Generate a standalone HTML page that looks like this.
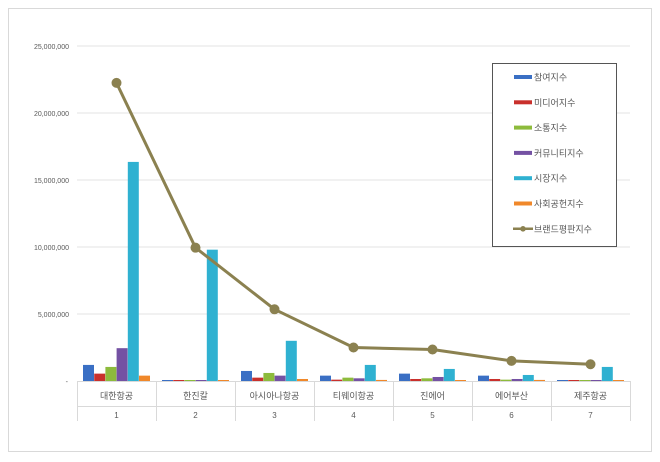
<!DOCTYPE html>
<html><head><meta charset="utf-8"><style>
html,body{margin:0;padding:0;background:#fff;width:660px;height:462px;overflow:hidden}
svg{display:block;font-family:"Liberation Sans","Noto Sans CJK KR",sans-serif}
</style></head><body>
<svg id="s" width="660" height="462" viewBox="0 0 660 462" xmlns="http://www.w3.org/2000/svg">
<rect x="8.5" y="8.5" width="643" height="443" fill="#fff" stroke="#d9d9d9"/>
</svg>
<script>
const s=document.getElementById('s');const NS='http://www.w3.org/2000/svg';
function el(t,a,txt){const e=document.createElementNS(NS,t);for(const k in a)e.setAttribute(k,a[k]);if(txt!==undefined)e.textContent=txt;s.appendChild(e);return e;}
const y0=381,pm=13.4,x0=77,cw=79;
const ylab=['-','5,000,000','10,000,000','15,000,000','20,000,000','25,000,000'];
for(let i=0;i<6;i++){const y=y0-i*5*pm;if(i>0)el('line',{x1:x0,x2:630,y1:y,y2:y,stroke:'#e3e3e3'});
el('text',{x:i==0?68:69,y:y+3,'font-size':7,'text-anchor':'end',fill:'#595959'},ylab[i]);}
el('line',{x1:x0,x2:630,y1:y0+0.5,y2:y0+0.5,stroke:'#d9d9d9'});
const cols=['#3a6fc4','#c9302c','#8dbb3c','#7451a3','#2fb1d1','#f0882a'];
const grad=[['#4a7fd6','#2a5aa8'],['#d93a34','#a82420'],['#9ccc48','#78a030'],['#8460b6','#5e3d8a'],['#38c0e0','#2590aa'],['#f59a3c','#d87018']];
const d=[[1.2,0.55,1.05,2.45,16.35,0.4],[0.05,0.05,0.05,0.05,9.8,0.05],[0.75,0.25,0.6,0.4,3.0,0.15],[0.4,0.1,0.25,0.2,1.2,0.08],[0.55,0.15,0.2,0.3,0.9,0.06],[0.4,0.15,0.1,0.15,0.45,0.08],[0.05,0.04,0.04,0.04,1.05,0.04]];
const names=['대한항공','한진칼','아시아나항공','티웨이항공','진에어','에어부산','제주항공'];
const line=[22.25,9.95,5.35,2.5,2.35,1.5,1.25];
for(let c=0;c<7;c++){const bx=x0+c*cw+6;
for(let j=0;j<6;j++){const h=Math.max(1,d[c][j]*pm);el('rect',{x:bx+j*11.2,y:y0-h,width:11,height:h,fill:cols[j]});}
el('line',{x1:x0+c*cw+0.5,x2:x0+c*cw+0.5,y1:y0,y2:421,stroke:'#d9d9d9'});
el('text',{x:x0+c*cw+cw/2,y:399,'font-size':9,'text-anchor':'middle',fill:'#595959'},names[c]);
el('text',{x:x0+c*cw+cw/2,y:418,'font-size':8,'text-anchor':'middle',fill:'#595959'},String(c+1));}
el('line',{x1:630.5,x2:630.5,y1:y0,y2:421,stroke:'#d9d9d9'});
el('line',{x1:x0,x2:630,y1:406.5,y2:406.5,stroke:'#d9d9d9'});
let p='';line.forEach((v,i)=>{p+=(i?'L':'M')+(x0+i*cw+cw/2)+','+(y0-v*pm);});
el('path',{d:p,fill:'none',stroke:'#8b8150','stroke-width':3,'stroke-linejoin':'round'});
line.forEach((v,i)=>el('circle',{cx:x0+i*cw+cw/2,cy:y0-v*pm,r:5,fill:'#8b8150'}));
el('rect',{x:492.5,y:63.5,width:124,height:183,fill:'#fff',stroke:'#555'});
const ln=['참여지수','미디어지수','소통지수','커뮤니티지수','시장지수','사회공헌지수','브랜드평판지수'];
ln.forEach((t,i)=>{const y=77+i*25.3;
if(i<6)el('rect',{x:514,y:y-2,width:18,height:4,fill:cols[i]});
else{el('line',{x1:513,x2:533,y1:y,y2:y,stroke:'#8b8150','stroke-width':2.5});el('circle',{cx:523,cy:y,r:2.8,fill:'#8b8150'});}
el('text',{x:534,y:y+3.5,'font-size':9,fill:'#595959'},t);});
</script>
</body></html>
